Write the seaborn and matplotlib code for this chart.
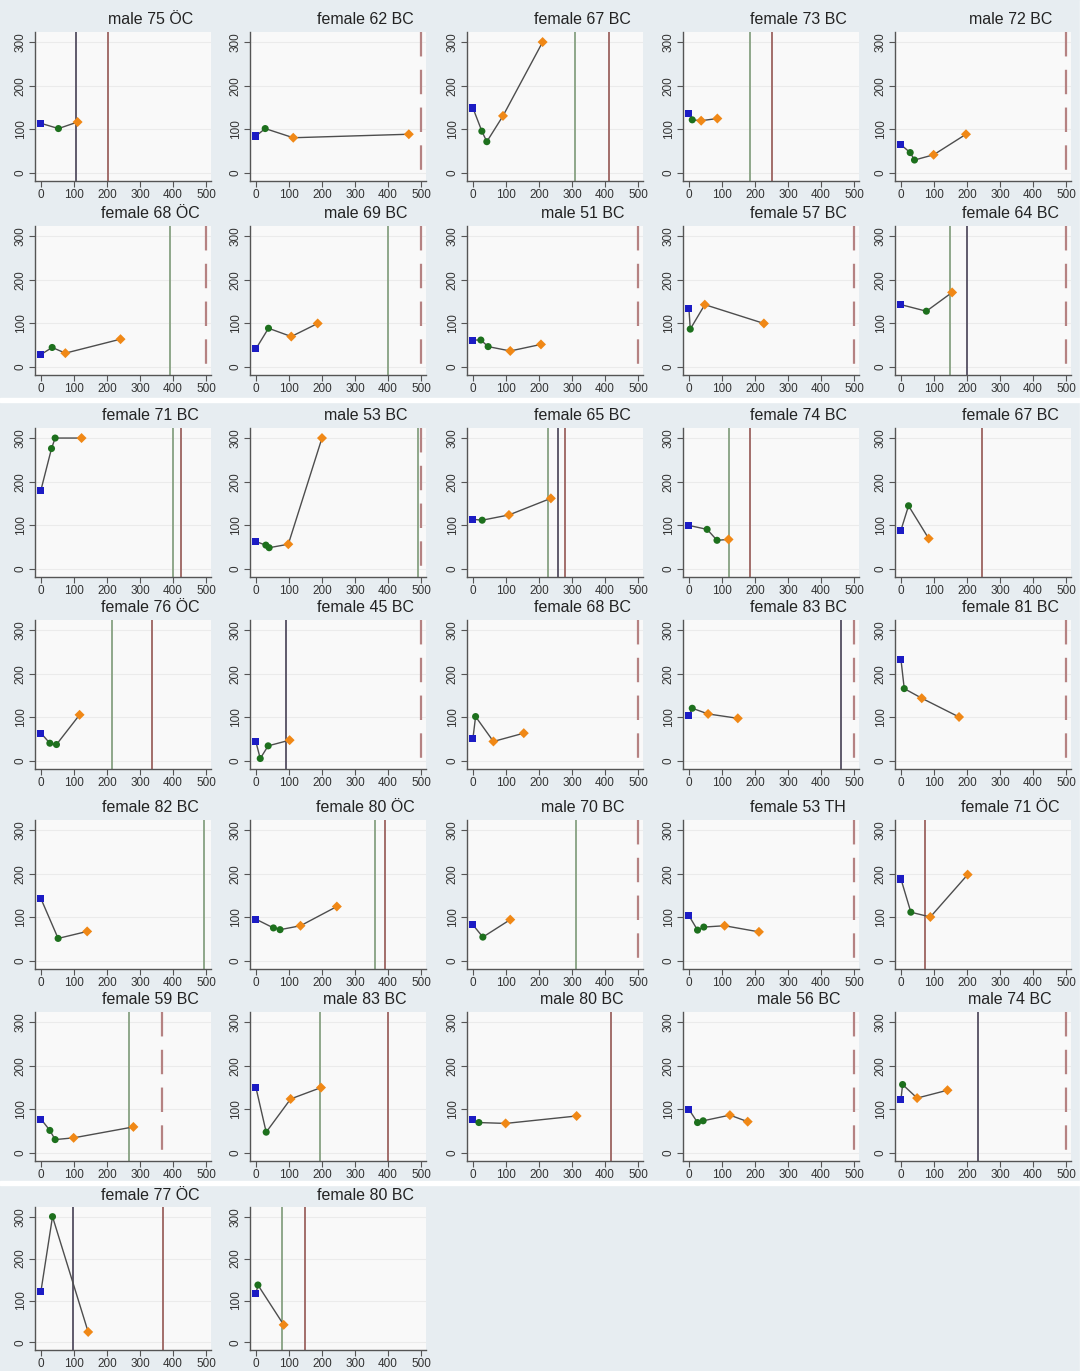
import matplotlib
matplotlib.use("Agg")
import matplotlib.pyplot as plt
from matplotlib.patches import Rectangle
import seaborn as sns
import pandas as pd

# panel titles (sex, age, group)
titles = ["male 75 ÖC", "female 62 BC", "female 67 BC", "female 73 BC", "male 72 BC",
          "female 68 ÖC", "male 69 BC", "male 51 BC", "female 57 BC", "female 64 BC",
          "female 71 BC", "male 53 BC", "female 65 BC", "female 74 BC", "female 67 BC",
          "female 76 ÖC", "female 45 BC", "female 68 BC", "female 83 BC", "female 81 BC",
          "female 82 BC", "female 80 ÖC", "male 70 BC", "female 53 TH", "female 71 ÖC",
          "female 59 BC", "male 83 BC", "male 80 BC", "male 56 BC", "male 74 BC",
          "female 77 ÖC", "female 80 BC"]

# days since baseline for each measurement
days = [[0, 53, 111], [0, 28, 113, 463], [0, 27, 42, 91, 211], [0, 10, 37, 86],
        [0, 28, 41, 99, 197], [0, 34, 74, 241], [0, 38, 107, 187], [0, 24, 46, 113, 206],
        [0, 4, 48, 227], [0, 77, 155], [0, 32, 43, 123], [0, 30, 40, 98, 200],
        [0, 28, 109, 236], [0, 55, 85, 120], [0, 23, 84], [0, 27, 47, 117],
        [0, 13, 37, 102], [0, 8, 62, 154], [0, 10, 58, 148], [0, 10, 63, 176],
        [0, 52, 140], [0, 53, 73, 135, 245], [0, 30, 113], [0, 26, 45, 108, 212],
        [0, 30, 89, 202], [0, 27, 43, 99, 280], [0, 31, 105, 197], [0, 18, 99, 314],
        [0, 26, 43, 124, 178], [0, 5, 49, 141], [0, 35, 143], [0, 6, 84]]

# measured values
values = [[114, 102, 117], [85, 102, 81, 89], [149, 96, 72, 131, 300], [136, 122, 120, 125],
          [65, 47, 30, 42, 89], [29, 45, 32, 64], [42, 89, 70, 100], [62, 62, 47, 37, 52],
          [134, 87, 143, 100], [143, 128, 171], [181, 276, 300, 300], [63, 55, 49, 57, 300],
          [114, 112, 124, 162], [100, 91, 66, 68], [89, 145, 70], [64, 41, 38, 106],
          [44, 6, 35, 48], [52, 102, 45, 64], [105, 121, 108, 98], [233, 166, 144, 101],
          [143, 52, 68], [96, 76, 72, 81, 125], [83, 55, 95], [104, 71, 78, 81, 67],
          [188, 112, 101, 198], [78, 52, 31, 35, 60], [150, 48, 124, 150], [76, 70, 68, 85],
          [100, 70, 74, 87, 72], [122, 157, 126, 144], [122, 300, 25], [116, 137, 42]]

# number of measurements in the middle phase (green) after baseline
n_mid = [1, 1, 2, 1, 2, 1, 1, 2, 1, 1, 2, 2, 1, 2, 1, 2,
         2, 1, 1, 1, 1, 2, 1, 2, 1, 2, 1, 1, 2, 1, 1, 1]

# event days (vertical reference lines), None = no event
green_line = [None, None, 308, 185, None, 390, 400, None, None, 150, 400, 492, 227, 120, None, 215,
              None, None, None, None, 495, 361, 311, None, None, 266, 194, None, None, None, None, 80]
gray_line = [105, None, None, None, None, None, None, None, None, 200, None, None, 259, None, None, None,
             90, None, 461, None, None, None, None, None, None, None, None, None, None, 234, 98, None]
red_line = [203, None, 412, 253, None, None, None, None, None, None, 425, None, 278, 184, 245, 337,
            None, None, None, None, None, 390, None, None, 73, None, 400, 418, None, None, 370, 150]
dash_line = [None, 500, None, None, 500, 500, 500, 500, 500, 500, None, 500, None, None, None, None,
             500, 500, 500, 500, None, None, 500, 500, None, 368, None, None, 500, 500, None, None]

sns.set_theme(style="ticks")
plt.rcParams["font.family"] = ["Liberation Sans", "DejaVu Sans"]

W, H = 1091, 1371
fig = plt.figure(figsize=(W / 100, H / 100), dpi=100, facecolor="#e7edf1")

col_left = [35, 250, 467, 683, 895]
row_top = [32, 226, 428, 620, 820, 1012, 1207]
row_h = [149, 149, 149, 149, 149, 149, 143]
axw = 176

phase_colors = {"base": "#1c1cc4", "mid": "#1d701d", "post": "#f08816"}
phase_markers = {"base": "s", "mid": "o", "post": "D"}
line_col = {"green": "#8fa78a", "gray": "#5f5a6c", "red": "#a26e6b", "dash": "#b58282"}

ylo, yhi = -18, 323

for i, title in enumerate(titles):
    r, c = divmod(i, 5)
    axh = row_h[r]
    ax = fig.add_axes([col_left[c] / W, 1 - (row_top[r] + axh) / H, axw / W, axh / H])
    ax.set_facecolor("#f9f9f9")

    nm = n_mid[i]
    phase = ["base"] + ["mid"] * nm + ["post"] * (len(days[i]) - 1 - nm)
    df = pd.DataFrame({"day": days[i], "value": values[i], "phase": phase})

    for y in [0, 100, 200, 300]:
        ax.axhline(y, color="#ebebeb", lw=0.8, zorder=0)

    if green_line[i] is not None:
        ax.axvline(green_line[i], color=line_col["green"], lw=1.4, zorder=1)
    if gray_line[i] is not None:
        ax.axvline(gray_line[i], color=line_col["gray"], lw=1.4, zorder=1)
    if red_line[i] is not None:
        ax.axvline(red_line[i], color=line_col["red"], lw=1.4, zorder=1)
    if dash_line[i] is not None:
        # draw from the top down so the dash pattern starts at the top edge
        ax.plot([dash_line[i], dash_line[i]], [yhi, ylo], color=line_col["dash"], lw=1.6,
                ls=(0, (11, 6)), zorder=1)

    sns.lineplot(data=df, x="day", y="value", ax=ax, color="#4d4d4d", lw=1.0,
                 estimator=None, sort=False, zorder=2)
    sns.scatterplot(data=df, x="day", y="value", hue="phase", style="phase", ax=ax,
                    palette=phase_colors, markers=phase_markers, s=26, linewidth=0,
                    legend=False, zorder=3)

    ax.set_xlim(-18, 515)
    ax.set_ylim(ylo, yhi)
    ax.set_xticks([0, 100, 200, 300, 400, 500])
    ax.set_yticks([0, 100, 200, 300])
    ax.set_yticklabels(["0", "100", "200", "300"], rotation=90, va="center")
    ax.set_xlabel("")
    ax.set_ylabel("")
    ax.tick_params(labelsize=8.5, labelcolor="#333333", color="#555555",
                   length=4, width=0.8, pad=2)
    sns.despine(ax=ax)
    for s in ["left", "bottom"]:
        ax.spines[s].set_color("#555555")
        ax.spines[s].set_linewidth(1.0)

    ax.text(0.655, 1 + 12 / axh, title, transform=ax.transAxes, ha="center", va="center",
            fontsize=11.5, color="#222222")

# seams between screenshot pieces
for y0, h in [(398, 4), (1181, 4)]:
    fig.patches.append(Rectangle((0, 1 - (y0 + h) / H), 1, h / H,
                                 transform=fig.transFigure, color="white", zorder=-1))
fig.patches.append(Rectangle((1080 / W, 0), 11 / W, 1, transform=fig.transFigure,
                             color="white", zorder=-1))

fig.savefig("out.png", dpi=100, facecolor=fig.get_facecolor())
